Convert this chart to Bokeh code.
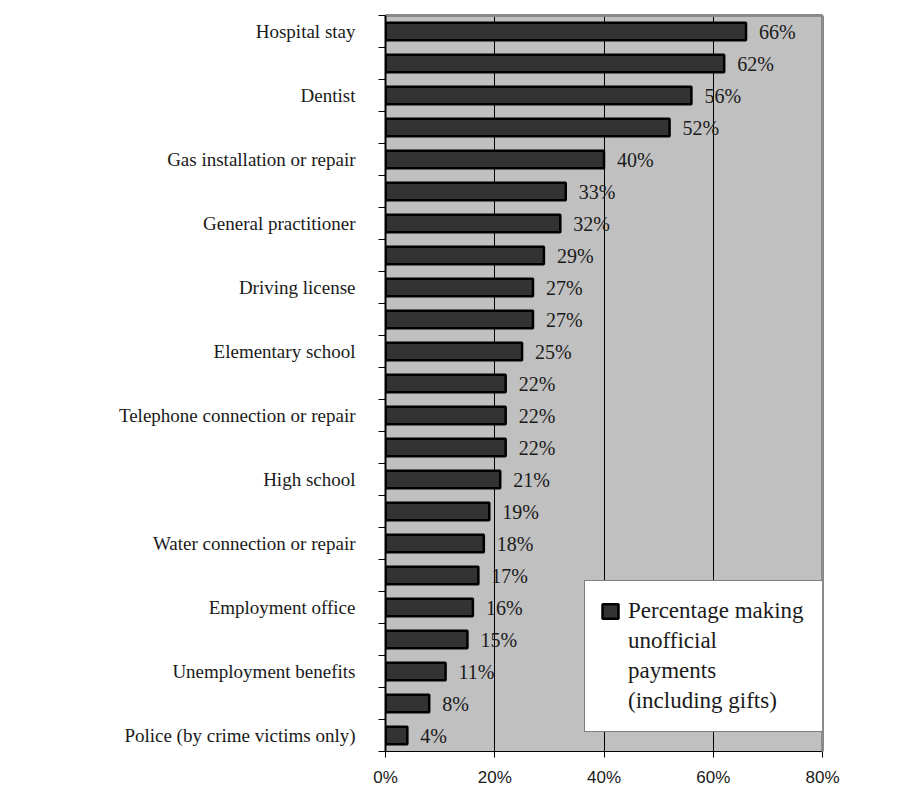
from bokeh.plotting import figure
from bokeh.models import (ColumnDataSource, Range1d, FixedTicker, PrintfTickFormatter,
                          Legend, LegendItem, LinearAxis)
from bokeh.core.properties import value
from bokeh.embed import file_html
from bokeh.resources import INLINE

# Data (top to bottom); unlabeled categories in the original are shown as ""
categories = ["Hospital stay", "", "Dentist", "", "Gas installation or repair", "",
              "General practitioner", "", "Driving license", "", "Elementary school", "",
              "Telephone connection or repair", "", "High school", "",
              "Water connection or repair", "", "Employment office", "",
              "Unemployment benefits", "", "Police (by crime victims only)"]
values = [66, 62, 56, 52, 40, 33, 32, 29, 27, 27, 25, 22, 22, 22, 21, 19, 18, 17, 16, 15, 11, 8, 4]
x_ticks = [0, 20, 40, 60, 80]
legend_lines = ["Percentage making", "unofficial", "payments", "(including gifts)"]

n = len(values)
ys = [n - i - 0.5 for i in range(n)]
src = ColumnDataSource(dict(y=ys, v=values, lab=[f"{v}%" for v in values]))

SERIF = "Liberation Serif"
TXT = "#1a1a1a"

p = figure(width=907, height=789, output_backend="svg", toolbar_location=None,
           x_range=Range1d(0, 80), y_range=Range1d(0, n),
           min_border_left=385, min_border_right=85, min_border_top=15, min_border_bottom=37)
p.border_fill_color = "white"
p.background_fill_color = "#C0C0C0"
p.outline_line_color = None

bars = p.hbar(y="y", left=0, right="v", height=0.55, source=src,
              fill_color="#333333", line_color="black", line_width=2.5)
dummy = p.hbar(y=[], left=[], right=[], height=0.55, fill_alpha=0, line_alpha=0)
p.text(x="v", y="y", text="lab", source=src, x_offset=13, text_baseline="middle",
       text_align="left", text_font=value(SERIF), text_font_size="20px", text_color=TXT)

# grid
p.ygrid.visible = False
p.xgrid.ticker = FixedTicker(ticks=x_ticks)
p.xgrid.grid_line_color = "black"
p.xgrid.grid_line_width = 1

# x axis
xa = p.xaxis[0]
xa.ticker = FixedTicker(ticks=x_ticks)
xa.formatter = PrintfTickFormatter(format="%d%%")
xa.axis_line_color = "black"
xa.major_tick_out = 6
xa.major_tick_in = 0
xa.minor_tick_out = 0
xa.major_tick_line_color = "black"
xa.major_label_text_font = "Liberation Sans"
xa.major_label_text_font_size = "17px"
xa.major_label_text_color = TXT
xa.major_label_standoff = 10

# y axis: labels at category centers, ticks at category boundaries
ya = p.yaxis[0]
label_pos = [ys[i] for i in range(n) if categories[i]]
ya.ticker = FixedTicker(ticks=label_pos, minor_ticks=list(range(n + 1)))
ya.major_label_overrides = {ys[i]: categories[i] for i in range(n) if categories[i]}
ya.major_tick_out = 0
ya.major_tick_in = 0
ya.minor_tick_out = 7
ya.minor_tick_in = 0
ya.minor_tick_line_color = "black"
ya.axis_line_color = "black"
ya.axis_line_width = 2
ya.major_label_text_font = SERIF
ya.major_label_text_font_size = "19px"
ya.major_label_text_color = TXT
ya.major_label_standoff = 23

# gray frame edges on top and right
for side in ("above", "right"):
    ax = LinearAxis(ticker=FixedTicker(ticks=[]), axis_line_color="#8a8a8a", axis_line_width=3,
                    major_tick_out=0, major_tick_in=0, minor_tick_out=0, minor_tick_in=0,
                    major_label_text_font_size="0px", major_label_standoff=0)
    p.add_layout(ax, side)

items = [LegendItem(label=legend_lines[0], renderers=[bars])] + \
        [LegendItem(label=t, renderers=[dummy]) for t in legend_lines[1:]]
legend = Legend(items=items,
                location=(199, 19), border_line_color="black", border_line_width=1,
                background_fill_color="white", background_fill_alpha=1,
                label_text_font=SERIF, label_text_font_size="23px",
                label_text_color=TXT, glyph_width=20, glyph_height=18,
                label_height=30, label_width=280,
                padding=15, margin=0, label_standoff=8, spacing=0)
p.add_layout(legend, "center")

open("out.html", "w").write(file_html(p, INLINE))
